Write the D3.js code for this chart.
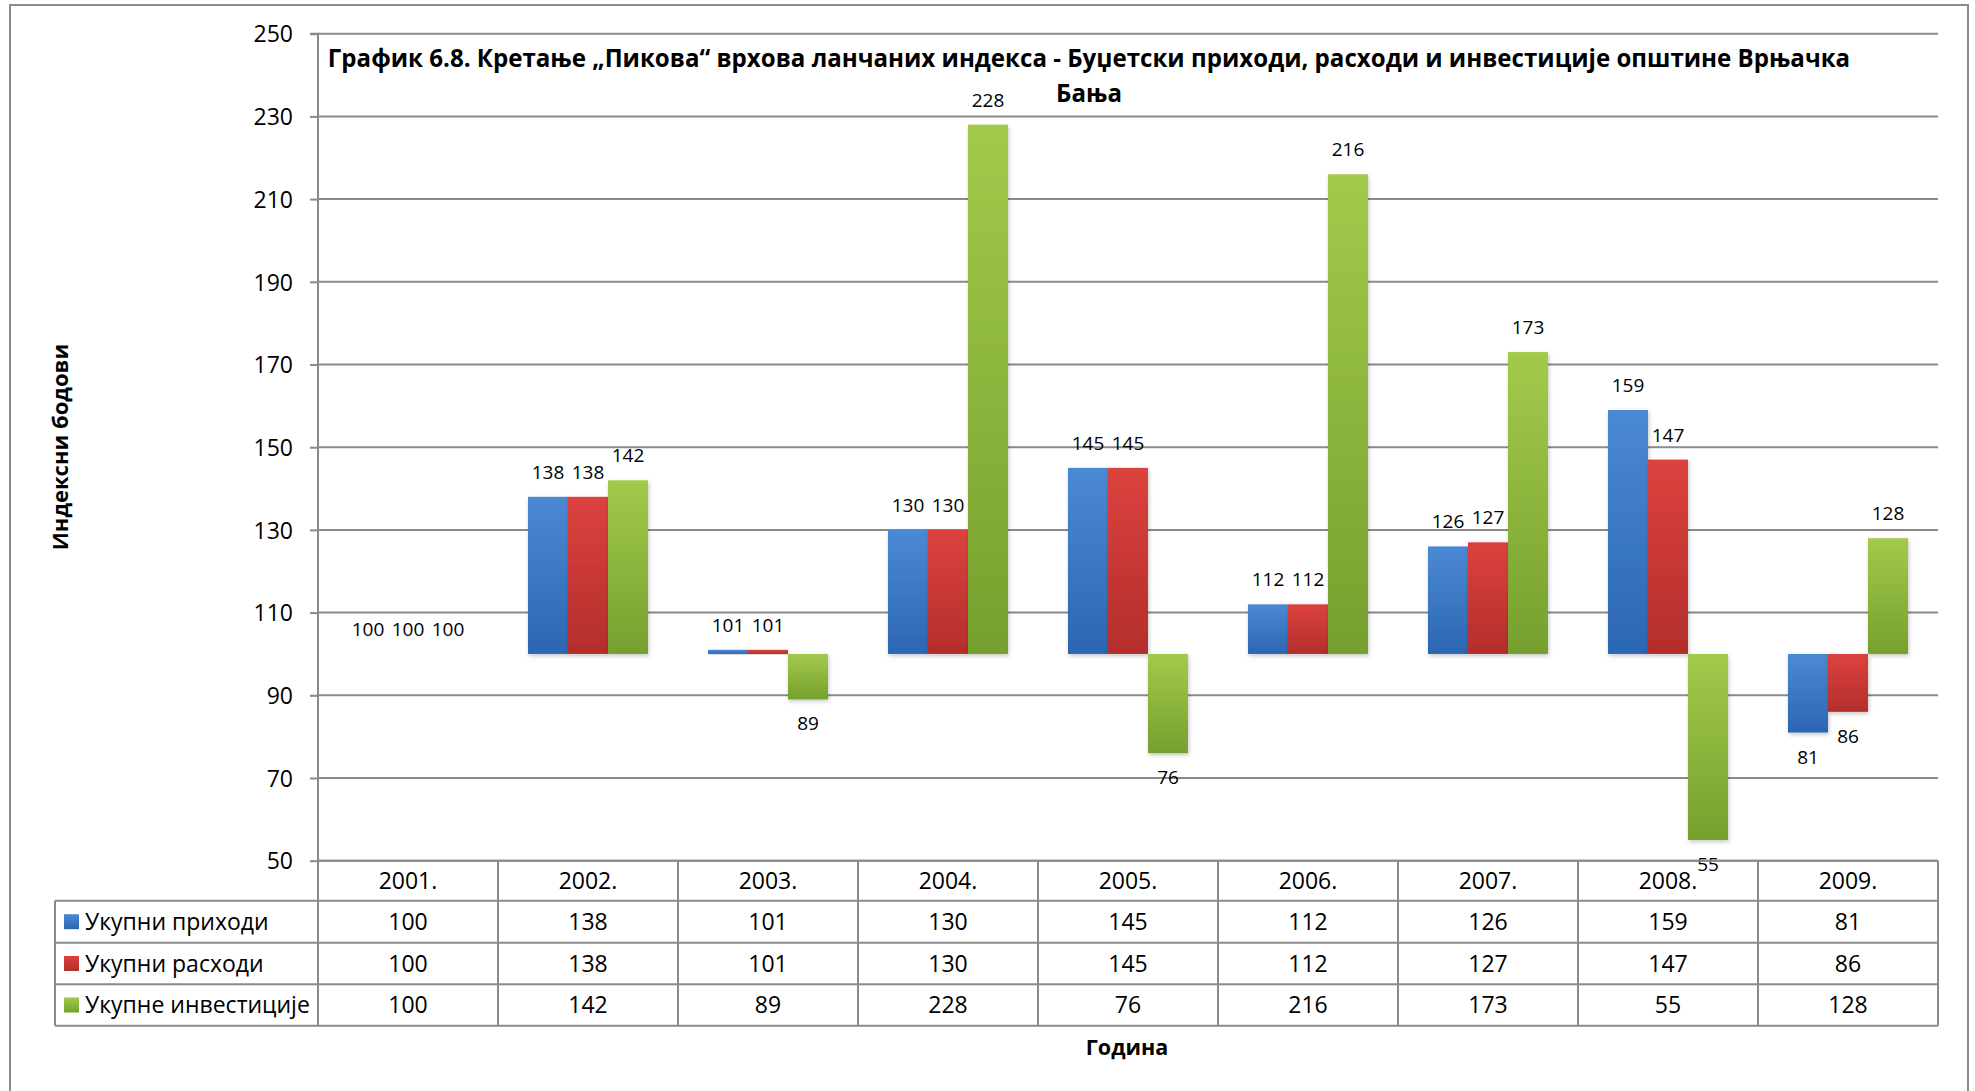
<!DOCTYPE html>
<html><head><meta charset="utf-8">
<script src="https://cdn.jsdelivr.net/npm/d3@7"></script>
<style>
html,body{margin:0;padding:0;background:#fff;}
svg{display:block;font-family:"Open Sans","Noto Sans",sans-serif;}
</style></head>
<body>
<svg id="chart" width="1975" height="1091"></svg>
<script>
const years = ["2001.","2002.","2003.","2004.","2005.","2006.","2007.","2008.","2009."];
const seriesNames = ["Укупни приходи","Укупни расходи","Укупне инвестиције"];
const prihodi = [100,138,101,130,145,112,126,159,81];
const rashodi = [100,138,101,130,145,112,127,147,86];
const investicije = [100,142,89,228,76,216,173,55,128];
const yTicks = [50,70,90,110,130,150,170,190,210,230,250];
const titleLines = ["График 6.8. Кретање „Пикова“ врхова ланчаних индекса - Буџетски приходи, расходи и инвестиције општине Врњачка","Бања"];
const yTitle = "Индексни бодови";
const xTitle = "Година";

const seriesValues = [prihodi, rashodi, investicije];
const colors = [["#4c89d4","#2b66b3"],["#dc423e","#b32e2c"],["#a2ca4b","#76a02e"]];

const svg = d3.select("#chart");
const L = 318, R = 1938, T = 33.7, B = 860.7;
const y = d3.scaleLinear().domain([50,250]).range([B,T]);
const x = d3.scaleBand().domain(years).range([L,R]).padding(0);
const xs = d3.scaleBand().domain([0,1,2]).range([0,x.bandwidth()]).paddingInner(0).paddingOuter(0.75);
const base = 100;
const grid = "#8a8a8a";

const defs = svg.append("defs");
colors.forEach((c,i)=>{
  const g = defs.append("linearGradient").attr("id","g"+i).attr("x1",0).attr("y1",0).attr("x2",0).attr("y2",1);
  g.append("stop").attr("offset","0%").attr("stop-color",c[0]);
  g.append("stop").attr("offset","100%").attr("stop-color",c[1]);
});
const f = defs.append("filter").attr("id","sh").attr("x","-20%").attr("y","-20%").attr("width","140%").attr("height","140%");
f.append("feDropShadow").attr("dx",1).attr("dy",2).attr("stdDeviation",2).attr("flood-color","#000").attr("flood-opacity",0.22);

// outer border
svg.append("rect").attr("x",10).attr("y",5).attr("width",1958).attr("height",1100)
  .attr("fill","none").attr("stroke","#8c8c8c").attr("stroke-width",2);

// gridlines
svg.append("g").selectAll("line").data(yTicks).join("line")
  .attr("x1",L).attr("x2",R).attr("y1",d=>y(d)).attr("y2",d=>y(d))
  .attr("stroke",grid).attr("stroke-width",d=>d===base?2.5:2);

// y axis
const ya = svg.append("g").attr("transform",`translate(${L},0)`)
  .call(d3.axisLeft(y).tickValues(yTicks).tickSize(8).tickPadding(17).tickFormat(d3.format("d")));
ya.select(".domain").attr("stroke",grid).attr("stroke-width",2).attr("d",`M-8,${T}H0V${B}`);
ya.selectAll(".tick line").attr("stroke",grid).attr("stroke-width",2);
ya.selectAll(".tick text").attr("fill","#000").style("font-size","23px").style("font-family","'Open Sans',sans-serif").attr("dy","0.36em");

// bars
const bars = svg.append("g");
seriesValues.forEach((vals,si)=>{
  bars.append("g").selectAll("rect").data(vals.map((v,i)=>({v,yr:years[i]}))).join("rect")
    .attr("x",d=>x(d.yr)+xs(si))
    .attr("width",xs.bandwidth())
    .attr("y",d=>y(Math.max(d.v,base)))
    .attr("height",d=>Math.abs(y(d.v)-y(base)))
    .attr("fill",`url(#g${si})`)
    .attr("filter","url(#sh)");
});
// data labels
const labels = svg.append("g").style("font-size","19px").attr("fill","#000").attr("text-anchor","middle");
seriesValues.forEach((vals,si)=>{
  labels.append("g").selectAll("text").data(vals.map((v,i)=>({v,yr:years[i]}))).join("text")
    .attr("x",d=>x(d.yr)+xs(si)+xs.bandwidth()/2)
    .attr("y",d=>d.v>=base ? y(d.v)-18 : y(d.v)+31)
    .text(d=>d.v);
});

// title
const tt = svg.append("g").attr("font-weight","bold").attr("text-anchor","middle").attr("fill","#000");
const t1 = tt.append("text").attr("x",1089).attr("y",67).style("font-size","22px").text(titleLines[0]);
let w = t1.node().getComputedTextLength();
const fs = 22*1523/w;
t1.style("font-size",fs+"px");
tt.append("text").attr("x",1089).attr("y",102).style("font-size",fs+"px").text(titleLines[1]);

// axis titles
svg.append("text").attr("transform","translate(68,447) rotate(-90)").attr("text-anchor","middle")
  .attr("font-weight","bold").style("font-size","22px").text(yTitle);
svg.append("text").attr("x",1127).attr("y",1055).attr("text-anchor","middle")
  .attr("font-weight","bold").style("font-size","21.5px").text(xTitle);

// data table
const rowY = [860.7, 900.7, 942.7, 984.3, 1025.7];
const LX = 55;
const tg = svg.append("g");
const ln = (x1,y1,x2,y2)=>tg.append("line").attr("x1",x1).attr("y1",y1).attr("x2",x2).attr("y2",y2)
  .attr("stroke",grid).attr("stroke-width",2);
ln(L,rowY[0],R,rowY[0]);
ln(LX,rowY[1],R,rowY[1]); ln(LX,rowY[2],R,rowY[2]); ln(LX,rowY[3],R,rowY[3]); ln(LX,rowY[4],R,rowY[4]);
ln(LX,rowY[1],LX,rowY[4]);
years.forEach(yr=>ln(x(yr),rowY[0],x(yr),rowY[4]));
ln(R,rowY[0],R,rowY[4]);
// header
tg.append("g").selectAll("text").data(years).join("text")
  .attr("x",d=>x(d)+x.bandwidth()/2).attr("y",(rowY[0]+rowY[1])/2+8)
  .attr("text-anchor","middle").style("font-size","23px").text(d=>d);
seriesValues.forEach((vals,si)=>{
  const cy = (rowY[si+1]+rowY[si+2])/2;
  tg.append("g").selectAll("text").data(vals.map((v,i)=>({v,yr:years[i]}))).join("text")
    .attr("x",d=>x(d.yr)+x.bandwidth()/2).attr("y",cy+8)
    .attr("text-anchor","middle").style("font-size","23px").text(d=>d.v);
  tg.append("rect").attr("x",64).attr("y",cy-7.5).attr("width",15).attr("height",15).attr("fill",`url(#g${si})`);
  tg.append("text").attr("x",85).attr("y",cy+8).style("font-size","23px").text(seriesNames[si]);
});
</script>
</body></html>
